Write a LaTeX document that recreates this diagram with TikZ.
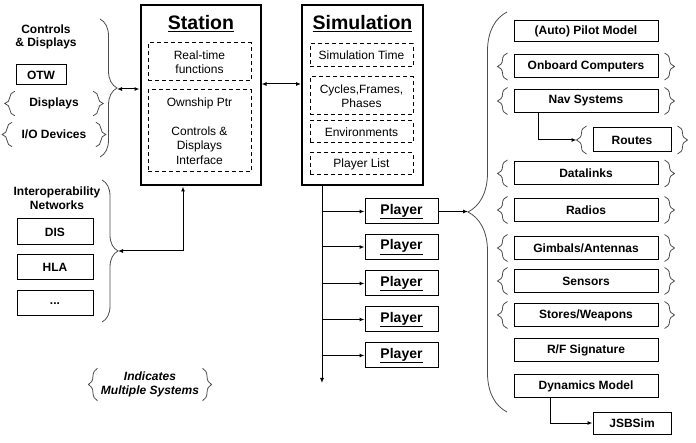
\documentclass[tikz,border=0pt]{standalone}
\usepackage{fontspec}
\setmainfont{Liberation Sans}
\usetikzlibrary{arrows.meta, decorations.pathreplacing, calc}

\tikzset{
  lbl/.style={font=\fontsize{12}{13.8}\selectfont\bfseries, align=center},
  sbox/.style={draw, line width=1pt, lbl, inner sep=0pt, minimum height=22pt},
  bigbox/.style={draw, line width=2pt, minimum width=120pt, minimum height=180pt},
  title/.style={font=\fontsize{19.5}{22}\selectfont\bfseries},
  dbox/.style={draw, line width=1pt, dash pattern=on 4pt off 3pt, minimum width=103pt,
    font=\fontsize{12}{14.5}\selectfont, align=center, inner sep=0pt},
  player/.style={sbox, minimum width=73pt, minimum height=25pt, font=\fontsize{14}{16}\selectfont\bfseries},
  rbox/.style={sbox, minimum width=144pt, minimum height=23pt},
  brc/.style={decorate, decoration={brace, amplitude=#1}, line width=0.8pt, black!70},
  brc/.default=10pt,
  arr/.style={-{Latex[length=5pt, width=4pt]}, line width=1pt},
  darr/.style={{Latex[length=5pt, width=4pt]}-{Latex[length=5pt, width=4pt]}, line width=1pt},
}

\begin{document}
\begin{tikzpicture}[x=1pt, y=-1pt]
    \useasboundingbox (0,0) rectangle (696,443);

    % Station
    \node[bigbox] (sta) at (200.5,95.5) {};
    \node[title] (statl) at (201,24) {\underline{Station}};
    \node[dbox, minimum height=38pt] (rtf) at (199.5,62) {Real-time\\functions};
    \node[dbox, minimum height=82pt] (own) at (199.5,131) {Ownship Ptr\\[14.5pt]Controls \&\\Displays\\Interface};

    % Simulation
    \node[bigbox, minimum width=121pt] (sim) at (362.5,95) {};
    \node[title] (simtl) at (362.5,24) {\underline{Simulation}};
    \node[dbox, minimum height=23pt] (simt) at (361.5,55.5) {Simulation Time};
    \node[dbox, minimum height=38pt] (cyc) at (361.5,96) {Cycles,Frames,\\Phases};
    \node[dbox, minimum height=22pt] (env) at (361.5,132) {Environments};
    \node[dbox, minimum height=22pt] (plist) at (361.5,164) {Player List};

    \draw[darr] ([yshift=11.5pt]sta.east) -- ([yshift=11.5pt]sta.east -| sim.west);

    % Controls & Displays
    \node[lbl] (cdt) at (46,37) {Controls\\\& Displays};
    \node[sbox, minimum width=50pt, minimum height=20pt] (otw) at (41,75) {OTW};
    \node[lbl, minimum width=66pt, minimum height=21pt] (dsp) at (54,103.5) {Displays};
    \node[lbl, minimum width=66pt, minimum height=21pt] (iod) at (54,134.5) {I/O Devices};
    \draw[brc=17pt] (100,19) -- (100,157);
    \coordinate (cdtip) at (117,89);
    \draw[darr] (cdtip) -- (cdtip -| sta.west);

    % Interoperability Networks
    \node[lbl] (iot) at (57,198.5) {Interoperability\\Networks};
    \node[sbox, minimum width=76pt, minimum height=26pt] (dis) at (55,232) {DIS};
    \node[sbox, minimum width=76pt, minimum height=25pt] (hla) at (55,267.5) {HLA};
    \node[sbox, minimum width=76pt, minimum height=25pt] (etc) at (55,303.5) {...};
    \draw[brc=16pt] (102,180) -- (102,322);
    \coordinate (iotip) at (118,251);
    \draw[darr] ([xshift=-17.5pt]sta.south) |- (iotip);

    % legend
    \node[font=\fontsize{12}{14}\selectfont\bfseries\itshape, align=center, minimum width=100pt,
      minimum height=25pt] (leg) at (150,384.5) {Indicates\\Multiple Systems};
    \draw[brc=9pt] (leg.south west) -- (leg.north west);
    \draw[brc=9pt] (leg.north east) -- (leg.south east);

    % Players
    \coordinate (trunk) at (322,383);
    \draw[arr] (sim.south -| trunk) -- (trunk);
    \foreach \i/\y in {1/211.5, 2/247, 3/283.5, 4/319.5, 5/355.5} {
      \node[player] (p\i) at (401.5,\y) {\underline{Player}};
      \draw[arr] (p\i -| trunk) -- (p\i.west);
    }

    % Player components
    \draw[brc=39pt] (507,412) -- (507,12);
    \coordinate (rtip) at (468,211.5);
    \draw[arr] (p1.east) -- (rtip);

    \node[rbox, minimum height=21pt] (apm) at (586,31) {(Auto) Pilot Model};
    \node[rbox] (obc) at (586,66.5) {Onboard Computers};
    \node[rbox] (nav) at (586,101) {Nav Systems};
    \node[sbox, minimum width=78pt, minimum height=24pt] (rte) at (632,140) {Routes};
    \node[rbox] (dlk) at (586,173.5) {Datalinks};
    \node[rbox] (rad) at (586,210) {Radios};
    \node[rbox] (gmb) at (586,248) {Gimbals/Antennas};
    \node[rbox] (sns) at (586,281) {Sensors};
    \node[rbox] (sto) at (586,315) {Stores/Weapons};
    \node[rbox] (rfs) at (586,350.5) {R/F Signature};
    \node[rbox] (dyn) at (586,386.5) {Dynamics Model};
    \node[sbox, minimum width=78pt, minimum height=22pt] (jsb) at (632,423) {JSBSim};

    \draw[arr] ([xshift=-48pt]nav.south) |- ([xshift=-16pt]rte.west);
    \draw[arr] ([xshift=-36pt]dyn.south) |- (jsb.west);

    % multiple systems braces
    \foreach \n in {dsp,iod,obc,nav,rte,dlk,rad,gmb,sns,sto} {
      \draw[brc] ([xshift=-6pt,yshift=-1.5pt]\n.south west) -- ([xshift=-6pt,yshift=1.5pt]\n.north west);
      \draw[brc] ([xshift=6pt,yshift=1.5pt]\n.north east) -- ([xshift=6pt,yshift=-1.5pt]\n.south east);
    }
\end{tikzpicture}
\end{document}
